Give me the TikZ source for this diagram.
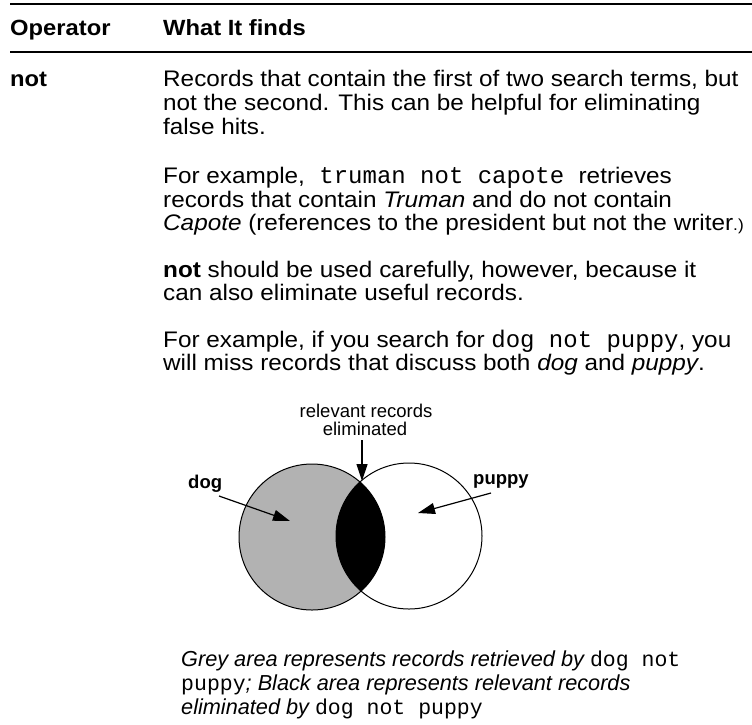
\documentclass[tikz,border=0pt]{standalone}
\usepackage{fontspec}
\setmainfont{Liberation Sans}
\newfontfamily\bodyfont[FakeStretch=1.08]{Liberation Sans}
\setmonofont{Liberation Mono}
\usetikzlibrary{arrows.meta}
\definecolor{venngrey}{RGB}{178,178,178}
\tikzset{
  body/.style={anchor=base west, inner sep=0pt, font=\bodyfont\fontsize{22.5}{24}\selectfont},
  head/.style={anchor=base west, inner sep=0pt, font=\bodyfont\fontsize{22}{24}\selectfont\bfseries},
  captext/.style={anchor=base west, inner sep=0pt, font=\fontsize{21.7}{24}\selectfont\itshape},
  vlabel/.style={inner sep=0pt, font=\fontsize{18.5}{19}\selectfont},
  vbold/.style={anchor=base west, inner sep=0pt, font=\fontsize{18.5}{19}\selectfont\bfseries},
  rule/.style={line width=2.4pt},
  pointer/.style={line width=1.2pt, -{Triangle[length=17pt,width=11pt]}},
  outline/.style={line width=1pt}
}
\newcommand{\tty}[1]{{\fontsize{24}{24}\selectfont\ttfamily #1}}
\newcommand{\capt}[1]{{\fontsize{21.5}{24}\selectfont\upshape\ttfamily #1}}
\begin{document}
\begin{tikzpicture}[x=1pt,y=-1pt]
\useasboundingbox (0,0) rectangle (752,724);
% rules
\coordinate (r1a) at (10,4); \coordinate (r1b) at (752,4);
\coordinate (r2a) at (10,52); \coordinate (r2b) at (752,52);
\draw[rule] (r1a) -- (r1b);
\draw[rule] (r2a) -- (r2b);
% header
\node[head] (hop) at (10,35) {Operator};
\node[head] (hwf) at (163,35) {What It finds};
% operator
\node[head] (op) at (10,86) {not};
% body
\node[body] (l1) at (163,86) {Records that contain the first of two search terms, but};
\node[body] (l2) at (163,110) {not the second. This can be helpful for eliminating};
\node[body] (l3) at (163,134) {false hits.};
\node[body] (l4) at (163,183) {For example,\tty{\ truman not capote\ }retrieves};
\node[body] (l5) at (163,207) {records that contain \textit{Truman} and do not contain};
\node[body] (l6) at (163,230) {\textit{Capote} (references to the president but not the writer{\fontsize{16}{16}\selectfont.)}};
\node[body] (l7) at (163,277) {\textbf{not} should be used carefully, however, because it};
\node[body] (l8) at (163,300) {can also eliminate useful records.};
\node[body] (l9) at (163,347) {For example, if you search for \tty{dog not puppy}, you};
\node[body] (l10) at (163,370) {will miss records that discuss both \textit{dog} and \textit{puppy}.};
% venn
\coordinate (cl) at (312,537);
\coordinate (cr) at (409,536);
\fill[venngrey] (cl) circle[radius=73];
\begin{scope}
  \clip (cl) circle[radius=73];
  \fill[black] (cr) circle[radius=73];
\end{scope}
\draw[outline] (cl) circle[radius=73];
\draw[outline] (cr) circle[radius=73];
% venn labels
\node[vlabel, anchor=base] (rel1) at (366,417) {relevant records};
\node[vlabel, anchor=base] (rel2) at (365,435) {eliminated};
\node[vbold] (dog) at (188,488) {dog};
\node[vbold] (pup) at (473,484) {puppy};
\coordinate (relstart) at (362,440);
\coordinate (reltip) at (362,481);
\coordinate (dogstart) at (219,496);
\coordinate (dogtip) at (290,521);
\coordinate (pupstart) at (491,493);
\coordinate (puptip) at (418,513);
\draw[pointer] (relstart) -- (reltip);
\draw[pointer] (dogstart) -- (dogtip);
\draw[pointer] (pupstart) -- (puptip);
% caption
\node[captext] (c1) at (181,666) {Grey area represents records retrieved by \capt{dog not}};
\node[captext] (c2) at (181,690) {\capt{puppy}; Black area represents relevant records};
\node[captext] (c3) at (181,714) {eliminated by \capt{dog not puppy}};
\end{tikzpicture}
\end{document}
